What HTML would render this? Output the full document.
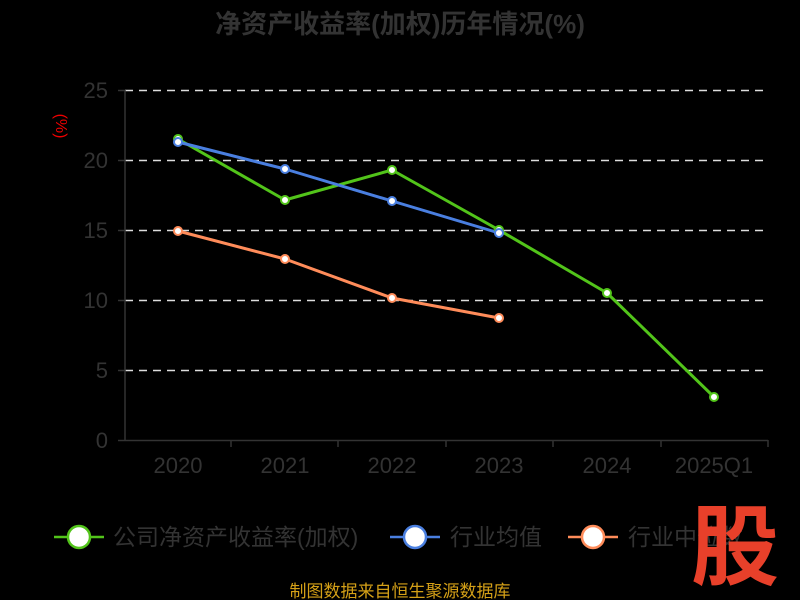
<!DOCTYPE html>
<html><head><meta charset="utf-8"><style>
html,body{margin:0;padding:0;background:#000;width:800px;height:600px;overflow:hidden}
text{font-family:"Liberation Sans","Noto Sans CJK SC",sans-serif}
</style></head><body>
<svg width="800" height="600" xmlns="http://www.w3.org/2000/svg">
<rect width="800" height="600" fill="#000"/>
<text x="400" y="33" text-anchor="middle" font-size="26" font-weight="bold" fill="#333">净资产收益率(加权)历年情况(%)</text>
<g stroke="#ddd" stroke-width="1.5" stroke-dasharray="8,6">
<line x1="125" y1="90.5" x2="768" y2="90.5"/>
<line x1="125" y1="160.5" x2="768" y2="160.5"/>
<line x1="125" y1="230.5" x2="768" y2="230.5"/>
<line x1="125" y1="300.5" x2="768" y2="300.5"/>
<line x1="125" y1="370.5" x2="768" y2="370.5"/>
</g>
<g stroke="#333" stroke-width="1.5">
<line x1="125" y1="90" x2="125" y2="441"/>
<line x1="118" y1="440.5" x2="768" y2="440.5"/>
<line x1="118" y1="90.5" x2="125" y2="90.5"/>
<line x1="118" y1="160.5" x2="125" y2="160.5"/>
<line x1="118" y1="230.5" x2="125" y2="230.5"/>
<line x1="118" y1="300.5" x2="125" y2="300.5"/>
<line x1="118" y1="370.5" x2="125" y2="370.5"/>
<line x1="231" y1="440" x2="231" y2="447"/>
<line x1="338" y1="440" x2="338" y2="447"/>
<line x1="446" y1="440" x2="446" y2="447"/>
<line x1="553" y1="440" x2="553" y2="447"/>
<line x1="661" y1="440" x2="661" y2="447"/>
<line x1="768" y1="440" x2="768" y2="447"/>
</g>
<g font-size="22" fill="#333" text-anchor="end">
<text x="108" y="98">25</text><text x="108" y="168">20</text><text x="108" y="238">15</text>
<text x="108" y="308">10</text><text x="108" y="378">5</text><text x="108" y="448">0</text>
</g>
<g font-size="22" fill="#333" text-anchor="middle">
<text x="178" y="473">2020</text><text x="285" y="473">2021</text><text x="392" y="473">2022</text>
<text x="499" y="473">2023</text><text x="607" y="473">2024</text><text x="714" y="473">2025Q1</text>
</g>
<text transform="translate(56,126) rotate(90)" font-size="16" fill="#e00" text-anchor="middle">(%)</text>
<g fill="none" stroke-width="3" stroke-linejoin="round">
<polyline stroke="#52c41a" points="178,139 285,200 392,170 499,230 607,293 714,397"/>
<polyline stroke="#4a7fe0" points="178,142 285,169 392,201 499,233"/>
<polyline stroke="#ff8c5a" points="178,231 285,259 392,298 499,318"/>
</g>
<g fill="#fff" stroke-width="2">
<g stroke="#52c41a"><circle cx="178" cy="139" r="4"/><circle cx="285" cy="200" r="4"/><circle cx="392" cy="170" r="4"/><circle cx="499" cy="230" r="4"/><circle cx="607" cy="293" r="4"/><circle cx="714" cy="397" r="4"/></g>
<g stroke="#4a7fe0"><circle cx="178" cy="142" r="4"/><circle cx="285" cy="169" r="4"/><circle cx="392" cy="201" r="4"/><circle cx="499" cy="233" r="4"/></g>
<g stroke="#ff8c5a"><circle cx="178" cy="231" r="4"/><circle cx="285" cy="259" r="4"/><circle cx="392" cy="298" r="4"/><circle cx="499" cy="318" r="4"/></g>
</g>
<g stroke-width="2.5">
<line x1="54" y1="537" x2="104" y2="537" stroke="#52c41a"/><ellipse cx="79" cy="537" rx="11" ry="11" fill="#fff" stroke="#52c41a"/>
<line x1="390" y1="537" x2="440" y2="537" stroke="#4a7fe0"/><ellipse cx="415" cy="537" rx="11" ry="11" fill="#fff" stroke="#4a7fe0"/>
<line x1="568" y1="537" x2="618" y2="537" stroke="#ff8c5a"/><ellipse cx="593" cy="537" rx="11" ry="11" fill="#fff" stroke="#ff8c5a"/>
</g>
<g font-size="23" fill="#333">
<text x="113" y="545">公司净资产收益率(加权)</text>
<text x="450" y="545">行业均值</text>
<text x="628" y="545">行业中位数</text>
</g>
<text x="735" y="578" text-anchor="middle" font-size="88" font-weight="bold" fill="#e8402a">股</text>
<text x="400" y="597" text-anchor="middle" font-size="17" fill="#d4a017">制图数据来自恒生聚源数据库</text>
</svg>
</body></html>
